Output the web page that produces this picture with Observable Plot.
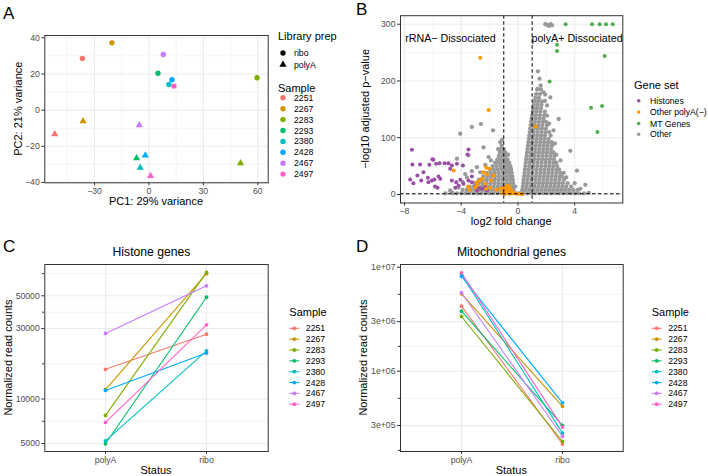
<!DOCTYPE html>
<html><head><meta charset="utf-8">
<script src="https://cdn.jsdelivr.net/npm/d3@7"></script>
<script src="https://cdn.jsdelivr.net/npm/@observablehq/plot@0.6"></script>
<style>
html,body{margin:0;padding:0;background:#fff;}
#fig{position:relative;width:708px;height:476px;overflow:hidden;background:#fff;}
</style></head><body><div id="fig"></div>
<script>
const FONT = '"Liberation Sans", Arial, Helvetica, sans-serif';

// ---------------- data ----------------
const samples = ["2251","2267","2283","2293","2380","2428","2467","2497"];
const sampleColors = ["#F8766D","#CD9600","#7CAE00","#00BE67","#00BFC4","#00A9FF","#C77CFF","#FF61CC"];
const libraryPreps = ["ribo","polyA"];

// Panel A: PCA
const pc1Ribo  = [-36.7,-20.4,59.6,5.0,11.0,12.7,7.9,13.8];
const pc2Ribo  = [28.6,37.2,17.9,20.4,14.2,16.8,30.8,13.3];
const pc1PolyA = [-51.9,-36.3,50.5,-6.8,-4.8,-2.0,-5.3,0.9];
const pc2PolyA = [-13.3,-6.1,-29.3,-26.5,-31.8,-25.0,-8.3,-36.4];
const pcaXTicks = [-30,0,30,60];
const pcaXTickLabels = ["\u221230","0","30","60"];
const pcaXMinor = [-45,-15,15,45];
const pcaYTicks = [-40,-20,0,20,40];
const pcaYTickLabels = ["\u221240","\u221220","0","20","40"];
const pcaYMinor = [-30,-10,10,30];

// Panel B: volcano
const geneSets = ["Histones","Other polyA(\u2212)","MT Genes","Other"];
const geneSetColors = ["#984EA3","#FF9900","#4DAF4A","#999999"];
const histonePoints = [[-7.48,78.6],[-7.44,52.8],[-6.9,52.8],[-6.66,39.3],[-7.09,33.5],[-7.6,26.4],[-7.37,20],[-6.82,24.7],[-5.96,61],[-5.77,54],[-5.53,55],[-6.24,52.3],[-6.35,29.4],[-6.07,24.7],[-5.89,26.4],[-5.6,31.7],[-5.48,27.6],[-6.31,21.7],[-5.84,14.1],[-5.67,11.8],[-4.9,55],[-4.66,51],[-4.78,45.2],[-4.3,54],[-3.49,79.3],[-3.56,70.5],[-3.88,51],[-4.07,25.8],[-4.66,24.7],[-4.35,21.7],[-4.19,15.8],[-3.84,18.8],[-3.49,24.7],[-3.25,21.7],[-3.01,14.1],[-2.78,11.8],[-2.54,10],[-2.31,14.1],[-2.89,7],[-2.19,7],[-4.42,11.8],[-3.25,31.7],[-6.03,62],[-5.17,55]];
const otherPolyAPoints = [[-2.66,240.7],[-2.07,149],[1.22,120],[-4.53,42.3],[-2.03,45.2],[-2.24,47.6],[-2.19,35.2],[-1.72,33.4],[-1.88,24.6],[-2.66,24.6],[-3.53,14],[-2.89,15.8],[-1.53,8.2],[-1.25,10],[-0.78,11.8],[-0.66,4],[-0.49,7],[-0.31,2.3],[-0.07,1.2],[-2.24,10],[-1.95,11.8],[-2.43,39.3],[-2.54,27.6],[-2.89,21.7],[-2.31,18.8],[-3.0,12.9],[-0.78,15.8],[-0.66,10],[-1.02,10],[0.16,1.2],[0.28,0.5],[-0.9,1.2],[-0.55,1.5],[-0.4,5],[-0.85,6],[-0.6,13],[-1.1,3],[-3.4,8]];
const mtPoints = [[3.36,300],[5.22,300],[5.76,300],[6.21,300],[6.68,300],[2.75,264],[2.75,253],[6.11,244],[2.23,199],[5.15,153],[5.93,156],[5.6,110]];
// dense "Other" genes, read row by row: [-log10 p, [log2FC ...]]
const otherRows = [
 [2,[-4.6,-4.3,-4.0,-3.7,-3.42,-3.14,-2.86,-2.58,-2.3,-2.02,-1.74,-1.46,-1.18,-0.9,-0.64,-0.4,-0.18,0.02,0.16,0.4,0.66,0.94,1.22,1.5,1.78,2.06,2.34,2.62,2.9,3.18,3.46,3.74,4.02,4.3,4.65]],
 [8,[-3.9,-3.6,-3.3,-3.02,-2.74,-2.46,-2.18,-1.9,-1.62,-1.34,-1.06,-0.8,-0.55,-0.3,0.3,0.54,0.8,1.08,1.36,1.64,1.92,2.2,2.48,2.76,3.04,3.32,3.6,3.9,4.2]],
 [14,[-3.4,-3.12,-2.84,-2.56,-2.28,-2.0,-1.72,-1.44,-1.16,-0.9,-0.64,-0.4,-0.2,0.34,0.6,0.88,1.16,1.44,1.72,2.0,2.28,2.56,2.84,3.12,3.4,3.75]],
 [20,[-3.05,-2.77,-2.49,-2.21,-1.93,-1.65,-1.37,-1.09,-0.83,-0.58,-0.34,0.37,0.64,0.92,1.2,1.48,1.76,2.04,2.32,2.6,2.88,3.16,3.5]],
 [26,[-2.75,-2.47,-2.19,-1.91,-1.63,-1.35,-1.07,-0.8,-0.55,-0.36,0.4,0.68,0.96,1.24,1.52,1.8,2.08,2.36,2.64,2.92,3.25]],
 [32,[-2.45,-2.17,-1.89,-1.61,-1.33,-1.05,-0.79,-0.56,-0.4,0.43,0.7,0.98,1.26,1.54,1.82,2.1,2.38,2.66,2.94,3.1]],
 [38,[-2.2,-1.92,-1.64,-1.36,-1.08,-0.82,-0.6,-0.44,0.46,0.74,1.02,1.3,1.58,1.86,2.14,2.42,2.7,2.98]],
 [44,[-1.98,-1.7,-1.42,-1.14,-0.88,-0.64,-0.48,0.49,0.76,1.04,1.32,1.6,1.88,2.16,2.44,2.72,2.9]],
 [50,[-1.78,-1.5,-1.22,-0.96,-0.72,-0.54,0.52,0.8,1.08,1.36,1.64,1.92,2.2,2.48,2.76]],
 [56,[-1.6,-1.34,-1.08,-0.84,-0.62,0.55,0.82,1.1,1.38,1.66,1.94,2.22,2.5,2.7]],
 [62,[-1.45,-1.2,-0.96,-0.74,0.58,0.86,1.14,1.42,1.7,1.98,2.26,2.54]],
 [68,[-1.35,-1.1,-0.86,0.61,0.88,1.16,1.44,1.72,2.0,2.28,2.56]],
 [74,[-1.28,-1.03,-0.9,0.64,0.92,1.2,1.48,1.76,2.04,2.32,2.5]],
 [80,[-1.22,-1.0,0.67,0.94,1.22,1.5,1.78,2.06,2.34]],
 [86,[-1.15,0.7,0.98,1.26,1.54,1.82,2.1,2.4]],
 [92,[0.73,1.0,1.28,1.56,1.84,2.12,2.36]],
 [96,[-1.12]],
 [98,[0.77,1.04,1.32,1.6,1.88,2.16]],
 [104,[0.8,1.07,1.35,1.63,1.91,2.3]],
 [110,[0.83,1.1,1.38,1.66,1.94,2.2]],
 [116,[0.86,1.13,1.41,1.69,1.97]],
 [122,[0.9,1.16,1.44,1.72,2.05]],
 [128,[0.93,1.2,1.48,1.76,1.98]],
 [134,[0.97,1.24,1.52,1.8]],
 [140,[1.0,1.27,1.55,1.85]],
 [146,[1.04,1.3,1.58,1.9]],
 [152,[1.08,1.34,1.62]],
 [158,[1.12,1.38,1.66]],
 [164,[1.16,1.42,1.7]],
 [170,[1.22,1.48]],
 [177,[1.28,1.55]],
 [185,[1.36,1.62]]
];
const otherScatter = [[-4.07,107],[-3.25,119],[-2.61,124],[-1.76,113],[-2.43,83],[-2.07,66],[-3.49,69],[-4.3,63],[-2.89,48],[-2.66,39],[-3.25,41],[-3.72,36],[-1.25,92],[-1.4,80],[-4.78,7],[-4.66,4],[-5.1,2],[-3.9,22],[-3.6,30],[-1.9,60],[-2.3,52],[-4.2,12],[-0.7,70],[-0.5,45],
 [1.93,300],[2.05,299],[2.18,297],[2.3,300],[2.4,298],[1.41,217],[1.52,204],[1.38,186],[1.8,180],[1.92,176],[2.28,171],[2.05,157],[2.05,139],[2.51,113],[2.87,133],[3.69,77],[4.16,42],[4.75,17],[3.22,38],[2.6,90],[1.6,192],[1.9,165],[2.2,125],[2.7,70],[3.0,60],[3.4,30],[4.0,20],[4.4,10],[5.0,3]];
const volcanoXTicks = [-8,-4,0,4];
const volcanoXTickLabels = ["\u22128","\u22124","0","4"];
const volcanoXMinor = [-6,-2,2,6];
const volcanoYTicks = [0,100,200,300];
const volcanoYMinor = [50,150,250];
const foldCutoffs = [-1,1];
const pCutoff = [1.3];
const noteLabels = ["rRNA\u2212 Dissociated","polyA+ Dissociated"];
const noteX = [-7.95,0.95];
const noteY = [275,275];

// Panels C & D
const statuses = ["polyA","ribo"];
const histonePolyA = [15900,11600,7750,4980,5210,11430,27800,6940];
const histoneRibo  = [27500,70600,72000,48900,21200,20500,58400,31800];
const histoneTicks = [5000,10000,30000,50000];
const histoneTickLabels = ["5000","10000","30000","50000"];
const histoneMinor = [7071,17321,38730,70711];
const mitoPolyA = [4.22e6,5.55e6,3.36e6,3.78e6,8.45e6,8.19e6,5.68e6,8.84e6];
const mitoRibo  = [2.00e5,4.60e5,2.11e5,3.01e5,2.54e5,4.97e5,2.37e5,2.90e5];
const mitoTicks = [1e7,3e6,1e6,3e5];
const mitoTickLabels = ["1e+07","3e+06","1e+06","3e+05"];
const mitoMinor = [5.477e6,1.732e6,5.477e5,1.732e5];

// ---------------- helpers ----------------
const fig = document.getElementById("fig");
function place(el, left, top) {
  el.style.position = "absolute";
  el.style.left = left + "px";
  el.style.top = top + "px";
  fig.appendChild(el);
}
const style = {fontFamily: FONT, fontSize: "8.7px", background: "transparent", overflow: "visible", color: "#4d4d4d"};
const fmt = (ticks, labels) => { const m = new Map(ticks.map((t,i)=>[t,labels[i]])); return d => m.get(d); };
const gridMinor = {stroke: "#ebebeb", strokeOpacity: 1, strokeWidth: 0.55};
const gridMajor = {stroke: "#ebebeb", strokeOpacity: 1, strokeWidth: 1.1};
const axisOpts = {tickSize: 3, tickPadding: 2, label: null, stroke: "#333", fill: "#4d4d4d"};
const sampleColor = {domain: samples, range: sampleColors};

// ---------------- Panel A ----------------
const pcaRows = [];
samples.forEach((s,i) => {
  pcaRows.push({sample: s, prep: "ribo", pc1: pc1Ribo[i], pc2: pc2Ribo[i]});
  pcaRows.push({sample: s, prep: "polyA", pc1: pc1PolyA[i], pc2: pc2PolyA[i]});
});
place(Plot.plot({
  width: 270, height: 215,
  marginLeft: 44.3, marginRight: 2.3, marginTop: 35, marginBottom: 32.7,
  style,
  x: {domain: [-57.4, 65.75]},
  y: {domain: [-40.17, 41.27]},
  color: sampleColor,
  symbol: {domain: libraryPreps, range: ["circle","triangle"]},
  marks: [
    Plot.gridX(pcaXMinor, gridMinor), Plot.gridY(pcaYMinor, gridMinor),
    Plot.gridX(pcaXTicks, gridMajor), Plot.gridY(pcaYTicks, gridMajor),
    Plot.dot(pcaRows, {x: "pc1", y: "pc2", fill: "sample", symbol: "prep", r: 2.7}),
    Plot.frame({stroke: "#333", strokeWidth: 1}),
    Plot.axisX(pcaXTicks, {...axisOpts, tickFormat: fmt(pcaXTicks, pcaXTickLabels)}),
    Plot.axisY(pcaYTicks, {...axisOpts, tickFormat: fmt(pcaYTicks, pcaYTickLabels)})
  ]
}), 0, 0);

// ---------------- Panel B ----------------
const volcanoOther = [];
otherRows.forEach(([p, xs]) => xs.forEach(x => volcanoOther.push({lfc: x, p, set: geneSets[3]})));
otherScatter.forEach(([x,p]) => volcanoOther.push({lfc: x, p, set: geneSets[3]}));
const volcanoSets = [];
histonePoints.forEach(([x,p]) => volcanoSets.push({lfc: x, p, set: geneSets[0]}));
otherPolyAPoints.forEach(([x,p]) => volcanoSets.push({lfc: x, p, set: geneSets[1]}));
mtPoints.forEach(([x,p]) => volcanoSets.push({lfc: x, p, set: geneSets[2]}));
const notes = noteLabels.map((t,i) => ({label: t, x: noteX[i], y: noteY[i]}));
place(Plot.plot({
  width: 270, height: 235,
  marginLeft: 45, marginRight: 2.7, marginTop: 15.2, marginBottom: 32.5,
  style,
  x: {domain: [-8.28, 7.39]},
  y: {domain: [-15, 315]},
  color: {domain: geneSets, range: geneSetColors},
  marks: [
    Plot.gridX(volcanoXMinor, gridMinor), Plot.gridY(volcanoYMinor, gridMinor),
    Plot.gridX(volcanoXTicks, gridMajor), Plot.gridY(volcanoYTicks, gridMajor),
    Plot.dot(volcanoOther, {x: "lfc", y: "p", fill: "set", r: 2.15}),
    Plot.dot(volcanoSets, {x: "lfc", y: "p", fill: "set", r: 2}),
    Plot.ruleX(foldCutoffs, {stroke: "#000", strokeWidth: 1, strokeDasharray: "3.5,2.5"}),
    Plot.ruleY(pCutoff, {stroke: "#000", strokeWidth: 1, strokeDasharray: "3.5,2.5"}),
    Plot.text(notes, {x: "x", y: "y", text: "label", textAnchor: "start", fontSize: 10.7, fill: "#000"}),
    Plot.frame({stroke: "#333", strokeWidth: 1}),
    Plot.axisX(volcanoXTicks, {...axisOpts, tickFormat: fmt(volcanoXTicks, volcanoXTickLabels)}),
    Plot.axisY(volcanoYTicks, {...axisOpts})
  ]
}), 355, 0);

// ---------------- Panels C & D ----------------
function pairedPlot(polyA, ribo, domain, ticks, labels, minor, mLeft, mRight) {
  const rows = [];
  samples.forEach((s,i) => {
    rows.push({sample: s, status: statuses[0], value: polyA[i]});
    rows.push({sample: s, status: statuses[1], value: ribo[i]});
  });
  return Plot.plot({
    width: 270, height: 236,
    marginLeft: mLeft, marginRight: mRight, marginTop: 24, marginBottom: 25,
    style,
    x: {type: "point", domain: statuses, padding: 0.6},
    y: {type: "log", domain},
    color: sampleColor,
    marks: [
      Plot.gridY(minor, gridMinor),
      Plot.gridY(ticks, gridMajor),
      Plot.gridX(statuses, gridMajor),
      Plot.line(rows, {x: "status", y: "value", z: "sample", stroke: "sample", strokeWidth: 1.1}),
      Plot.dot(rows, {x: "status", y: "value", fill: "sample", r: 1.9}),
      Plot.frame({stroke: "#333", strokeWidth: 1}),
      Plot.axisX({...axisOpts}),
      Plot.axisY(ticks, {...axisOpts, tickFormat: () => ""}),
      Plot.axisY(minor, {...axisOpts, tickSize: 2.2, tickFormat: () => ""}),
      Plot.text(ticks, {y: d => d, text: (d, i) => labels[i], frameAnchor: "left", textAnchor: "end", dx: -5, fill: "#4d4d4d", fontSize: 8.7})
    ]
  });
}
place(pairedPlot(histonePolyA, histoneRibo, [4413, 81470], histoneTicks, histoneTickLabels, histoneMinor, 44.3, 2.3), 0, 240);
place(pairedPlot(mitoPolyA, mitoRibo, [1.69e5, 1.062e7], mitoTicks, mitoTickLabels, mitoMinor, 45, 2.3), 355, 240);

// ---------------- overlay: titles, axis titles, legends ----------------
const svg = d3.select(fig).append("svg")
  .attr("width", 708).attr("height", 476)
  .style("position", "absolute").style("left", "0px").style("top", "0px")
  .style("font-family", FONT).style("overflow", "visible");
function txt(x, y, s, size, opts = {}) {
  const t = svg.append("text").attr("x", x).attr("y", y)
    .attr("font-size", size).attr("fill", opts.fill || "#000")
    .attr("text-anchor", opts.anchor || "middle")
    .attr("dominant-baseline", "central").text(s);
  if (opts.rotate) t.attr("transform", `rotate(${opts.rotate},${x},${y})`);
  return t;
}
// panel tags
txt(3, 13, "A", 17, {anchor: "start"});
txt(356, 9.5, "B", 17, {anchor: "start"});
txt(3, 246, "C", 17, {anchor: "start"});
txt(356, 246, "D", 17, {anchor: "start"});
// axis titles
txt(156, 201, "PC1: 29% variance", 11);
txt(18, 108.7, "PC2: 21% variance", 11, {rotate: -90});
txt(511.2, 221, "log2 fold change", 11);
txt(365, 108.9, "\u2212log10 adjusted p\u2212value", 11, {rotate: -90});
txt(151.5, 252, "Histone genes", 12.2);
txt(511.5, 252, "Mitochondrial genes", 12.2);
txt(156, 469.5, "Status", 11);
txt(511.3, 469.5, "Status", 11);
txt(8.3, 357.5, "Normalized read counts", 11, {rotate: -90});
txt(363, 357.5, "Normalized read counts", 11, {rotate: -90});

// Legend A
txt(278, 36, "Library prep", 11, {anchor: "start"});
svg.append("circle").attr("cx", 283).attr("cy", 53).attr("r", 2.7).attr("fill", "#000");
svg.append("path").attr("d", d3.symbol(d3.symbolTriangle, Math.PI * 2.7 * 2.7)()).attr("transform", "translate(283,64.7)").attr("fill", "#000");
txt(294, 53, libraryPreps[0], 8.7, {anchor: "start"});
txt(294, 64.7, libraryPreps[1], 8.7, {anchor: "start"});
txt(278, 87.5, "Sample", 11, {anchor: "start"});
samples.forEach((s,i) => {
  const y = 97.8 + i * 10.9;
  svg.append("circle").attr("cx", 283).attr("cy", y).attr("r", 2.7).attr("fill", sampleColors[i]);
  txt(294, y, s, 8.7, {anchor: "start"});
});

// Legend B
txt(634, 85, "Gene set", 11, {anchor: "start"});
[100.7, 112.1, 123.5, 134.2].forEach((y,i) => {
  svg.append("circle").attr("cx", 638.7).attr("cy", y).attr("r", 1.8).attr("fill", geneSetColors[i]);
  txt(650, y, geneSets[i], 8.7, {anchor: "start"});
});

// Legends C & D
function lineLegend(x0, titleY) {
  txt(x0, titleY, "Sample", 11, {anchor: "start"});
  samples.forEach((s,i) => {
    const y = titleY + 16.6 + i * 10.85;
    svg.append("line").attr("x1", x0).attr("x2", x0 + 10).attr("y1", y).attr("y2", y)
      .attr("stroke", sampleColors[i]).attr("stroke-width", 1.1);
    svg.append("circle").attr("cx", x0 + 5).attr("cy", y).attr("r", 1.9).attr("fill", sampleColors[i]);
    txt(x0 + 16.5, y, s, 8.7, {anchor: "start"});
  });
}
lineLegend(289.3, 311.7);
lineLegend(651.7, 311.7);
</script></body></html>
